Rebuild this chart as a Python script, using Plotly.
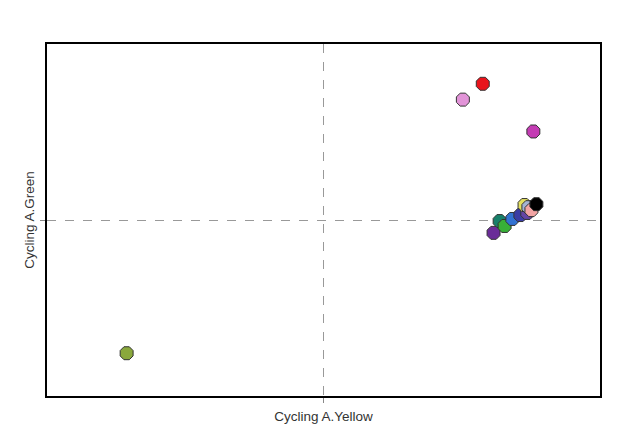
import plotly.graph_objects as go

# Sample points (Yellow, Green) and colours
yellow = [-0.712, 0.576, 0.504, 0.759, 0.615, 0.637, 0.655, 0.683, 0.712, 0.737, 0.727, 0.741, 0.752, 0.770]
green = [-0.757, 0.774, 0.684, 0.503, -0.073, -0.006, -0.034, 0.006, 0.028, 0.040, 0.085, 0.073, 0.056, 0.090]
colors = ["#8aa83c", "#e8141c", "#e294d8", "#c43cb4", "#6a2c98", "#17806a", "#38b038",
          "#3272d2", "#3a3ca4", "#6444a4", "#e4e060", "#a4b4d4", "#f2a4a4", "#000000"]

fig = go.Figure()
fig.add_trace(go.Scatter(
    x=yellow, y=green, mode="markers",
    marker=dict(symbol="octagon", size=14, color=colors,
                line=dict(color="#333333", width=1)),
    hoverinfo="skip", showlegend=False,
))

axis_common = dict(
    showline=True, linecolor="black", linewidth=2, mirror=True,
    tickvals=[0], showticklabels=False, ticks="outside", ticklen=5,
    tickcolor="#888888", showgrid=True, gridcolor="#999999", griddash="dash",
    gridwidth=1, zeroline=False, range=[-1, 1],
    title_font=dict(family="Liberation Sans, Arial", size=13.5, color="#333333"),
)

fig.update_layout(
    width=621, height=443,
    margin=dict(l=39, r=29, t=36, b=55),
    paper_bgcolor="white", plot_bgcolor="white",
    xaxis=dict(axis_common, title=dict(text="Cycling A.Yellow", standoff=10)),
    yaxis=dict(axis_common, title=dict(text="Cycling A.Green", standoff=2)),
)

fig.write_html("out.html")
